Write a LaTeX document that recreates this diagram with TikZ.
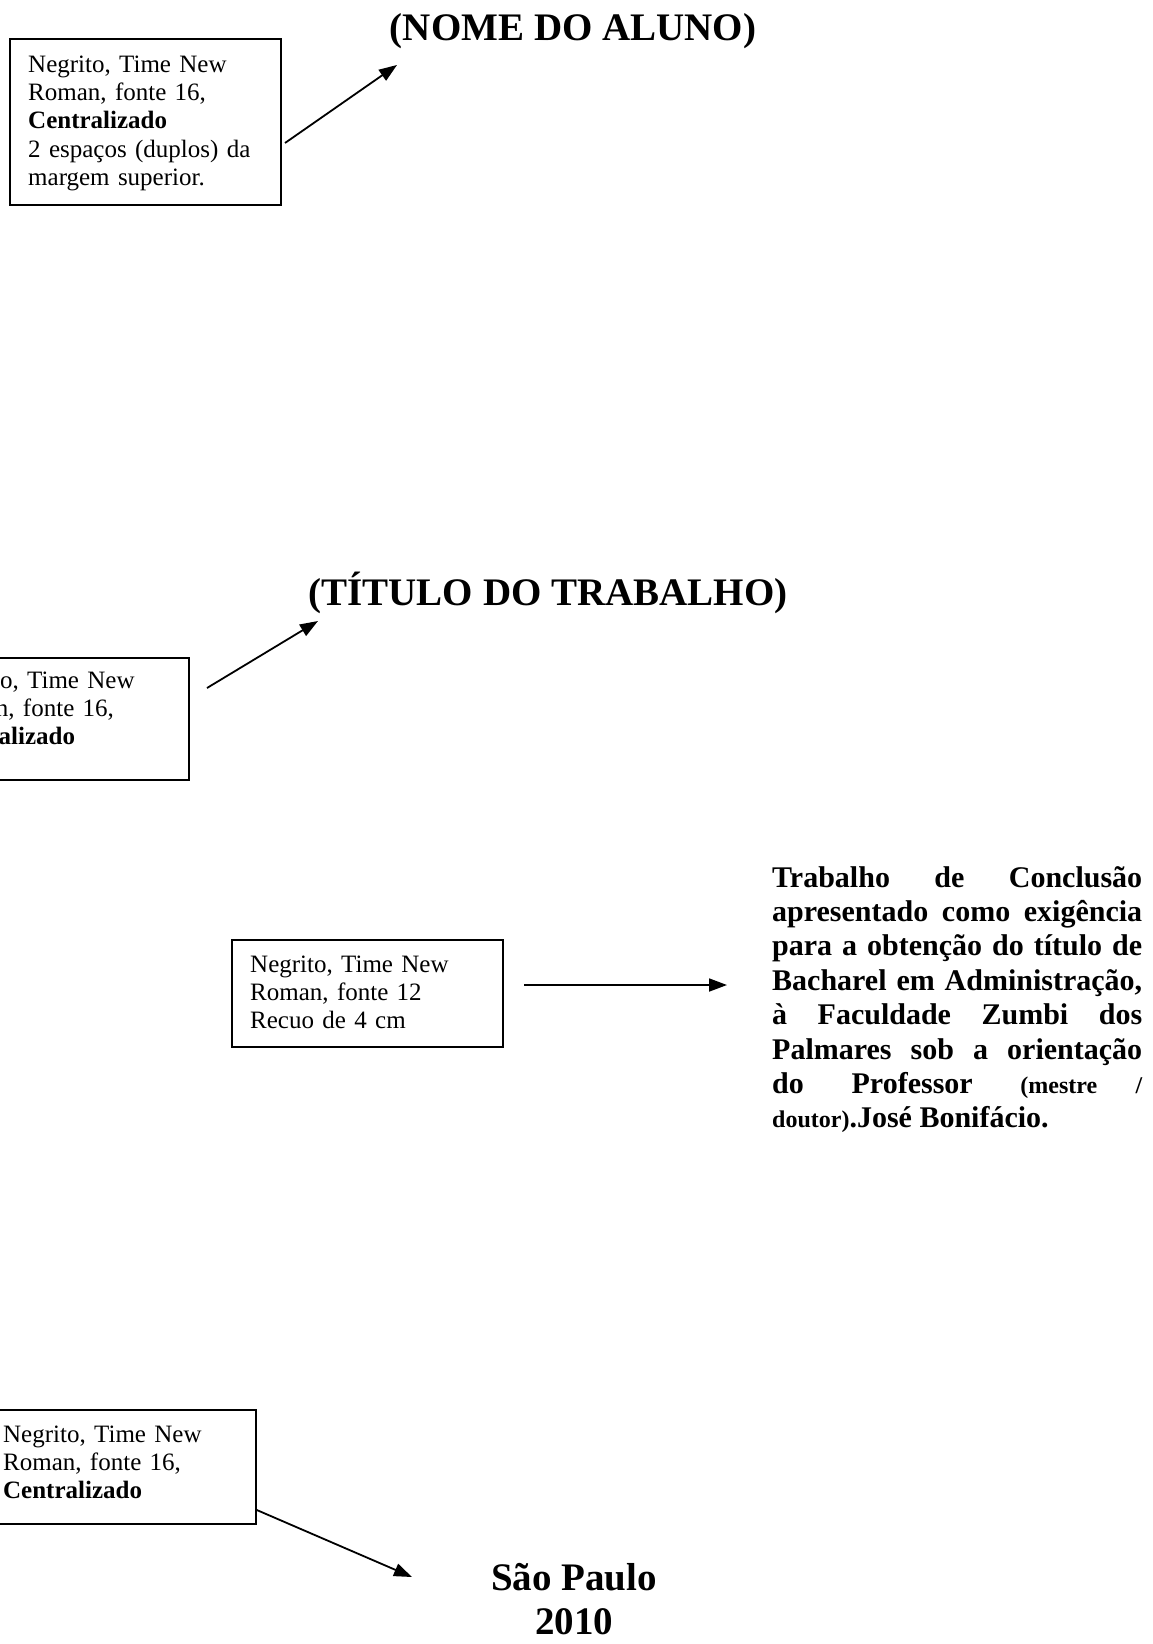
\documentclass[tikz,border=0pt]{standalone}
\usepackage{fontspec}
\setmainfont{Liberation Serif}
\usetikzlibrary{arrows.meta,positioning}

\begin{document}
\begin{tikzpicture}[x=1pt,y=-1pt]

    \tikzset{
      caixa/.style={
        draw,
        line width=1.8pt,
        inner sep=0pt,
        anchor=north west,
        minimum width=271pt,
      },
      nota/.style={
        anchor=base west,
        inner sep=0pt,
        text width=245pt,
        align=left,
        font=\fontsize{25}{28.4}\selectfont,
      },
      titulo/.style={
        anchor=base,
        inner sep=0pt,
        align=center,
        font=\fontsize{39}{44}\selectfont\bfseries,
      },
      seta/.style={
        line width=1.8pt,
        -{Triangle[length=18pt,width=13pt]},
      },
    }
    \clip (0,0) rectangle (1152,1644);

	% titulos
	\node[titulo] (nome) at (573,40) {(NOME DO ALUNO)};
	\node[titulo] (titulo) at (548,605) {(TÍTULO DO TRABALHO)};
	\node[titulo] (local) at (574,1634) {São Paulo\\2010};

	% caixas de nota
	\node[caixa, minimum height=166pt] (caixa1) at (9,38) {};
	\node[nota] (nota1) at (28,72) {Negrito, Time New\\Roman, fonte 16,\\\textbf{Centralizado}\\2 espaços (duplos) da\\margem superior.};
	\node[caixa, minimum height=122pt] (caixa2) at (-83,657) {};
	\node[nota] (nota2) at (-64,688) {Negrito, Time New\\Roman, fonte 16,\\\textbf{Centralizado}};
	\node[caixa, minimum height=107pt] (caixa3) at (231,939) {};
	\node[nota] (nota3) at (250,972) {Negrito, Time New\\Roman, fonte 12\\Recuo de 4 cm};
	\node[caixa, minimum height=114pt] (caixa4) at (-16,1409) {};
	\node[nota] (nota4) at (3,1442) {Negrito, Time New\\Roman, fonte 16,\\\textbf{Centralizado}};

	% texto da orientacao
	\node[anchor=base west, inner sep=0pt, text width=370pt, align=justify,
	  font=\fontsize{30}{34.4}\selectfont\bfseries] (orientacao) at (772,887)
	  {\hyphenpenalty=10000\tolerance=10000
	   Trabalho de Conclusão\linebreak
	   apresentado como exigência\linebreak
	   para a obtenção do título de\linebreak
	   Bacharel em Administração,\linebreak
	   à Faculdade Zumbi dos\linebreak
	   Palmares sob a orientação\linebreak
	   do Professor {\fontsize{24}{34.4}\selectfont (mestre /}\linebreak
	   {\fontsize{24}{34.4}\selectfont doutor)}.José Bonifácio.};

	% setas
	\coordinate (ini1) at (285,143);
	\coordinate (fim1) at (397,65);
	\coordinate (ini2) at (207,688);
	\coordinate (fim2) at (318,621);
	\coordinate (ini3) at (524,985);
	\coordinate (fim3) at (727,985);
	\coordinate (fim4) at (412,1577);
	\draw[seta] (ini1) -- (fim1);
	\draw[seta] (ini2) -- (fim2);
	\draw[seta] (ini3) -- (fim3);
	\draw[seta] (caixa4.east |- 0,1510) -- (fim4);

\end{tikzpicture}
\end{document}
